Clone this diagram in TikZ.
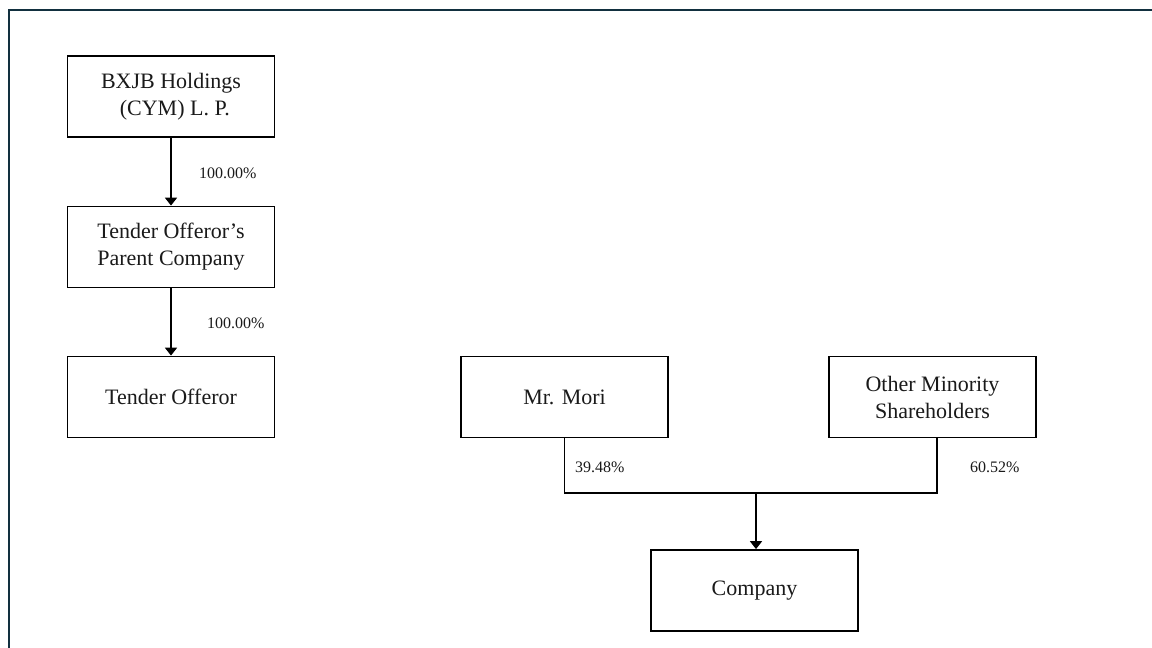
\documentclass[tikz,border=0pt]{standalone}
\usepackage{fontspec}
\setmainfont{Liberation Serif}
\usetikzlibrary{arrows.meta}
\definecolor{framecol}{HTML}{12303F}
\definecolor{txt}{HTML}{1A1A1A}
\tikzset{
  box/.style={draw=black, line width=1.8pt, minimum width=207pt, minimum height=81pt,
    align=center, inner sep=0pt, text=txt, font=\fontsize{22}{27}\selectfont},
  pct/.style={anchor=west, inner sep=0pt, text=txt, font=\fontsize{16}{18}\selectfont},
  link/.style={draw=black, line width=1.8pt},
  arr/.style={link, -{Triangle[width=12pt,length=8pt]}}
}
\begin{document}
\begin{tikzpicture}[x=1pt,y=-1pt]
\useasboundingbox (0,0) rectangle (1152,648);
\fill[white] (0,0) rectangle (1152,648);
\draw[framecol, line width=2.5pt] (1152,10) -- (9,10) -- (9,648);

\node[box] (bxjb) at (171,96.5) {BXJB Holdings\\\hspace*{0.35em}(CYM) L. P.};
\node[box] (parent) at (171,247) {Tender Offeror’s\\Parent Company};
\node[box] (tender) at (171,397) {Tender Offeror};
\node[box] (mori) at (564.5,397) {Mr. Mori};
\node[box] (other) at (932.5,397) {Other Minority\\Shareholders};
\node[box] (company) at (754.5,590.5) {Company};

\coordinate (join) at (756,493);
\coordinate (otherfoot) at (937,438);

\draw[arr] (bxjb) -- (parent);
\draw[arr] (parent) -- (tender);
\draw[link] (mori.south) |- (join) -| (otherfoot);
\draw[arr] (join) -- (join |- company.north);

\node[pct] (p1) at (199,173) {100.00\%};
\node[pct] (p2) at (207,323) {100.00\%};
\node[pct] (p3) at (575,467) {39.48\%};
\node[pct] (p4) at (970,467) {60.52\%};
\end{tikzpicture}
\end{document}
